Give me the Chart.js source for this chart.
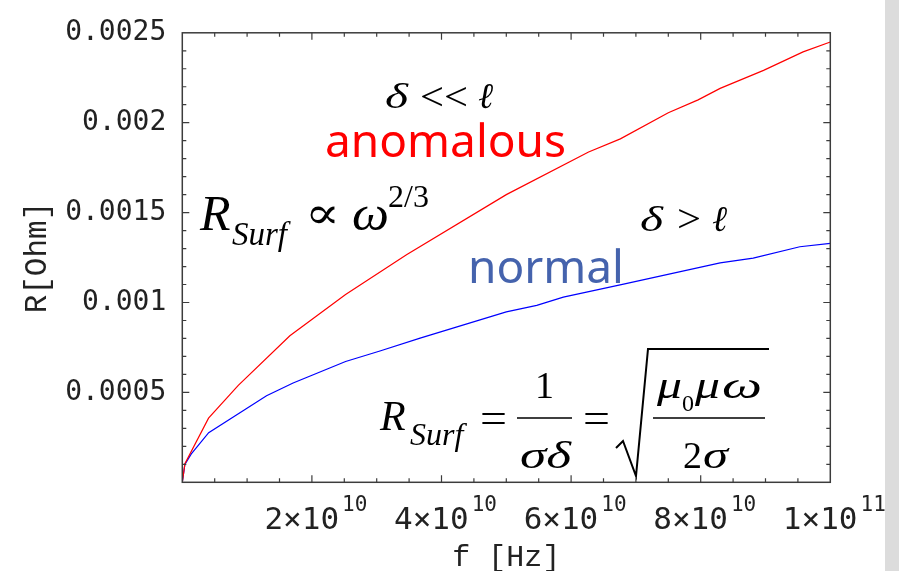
<!DOCTYPE html>
<html>
<head>
<meta charset="utf-8">
<script src="https://cdn.jsdelivr.net/npm/chart.js@4"></script>
<style>
  html, body { margin: 0; padding: 0; background: #fff; overflow: hidden; }
  #wrap { position: relative; width: 899px; height: 571px; }
</style>
</head>
<body>
<div id="wrap"><canvas id="surfChart" width="899" height="571"></canvas></div>
<script>
// ---- Data ----
const freqAnomalous = [0, 4e8, 4.05e9, 8.64e9, 1.66e10, 2.52e10, 3.46e10, 5.0e10, 6.27e10, 6.76e10, 7.5e10, 7.96e10, 8.3e10, 8.97e10, 9.58e10, 1.0e11];
const rAnomalous    = [0, 0.000103, 0.000357, 0.000539, 0.000815, 0.001044, 0.001265, 0.0016, 0.001837, 0.00191, 0.002055, 0.002127, 0.002191, 0.002291, 0.002394, 0.002449];

const freqNormal = [0, 4e8, 1.39e9, 4.07e9, 1.30e10, 1.71e10, 2.52e10, 3.05e10, 3.67e10, 5.0e10, 5.47e10, 5.88e10, 6.81e10, 8.3e10, 8.81e10, 9.53e10, 1.0e11];
const rNormal    = [0, 0.0001, 0.000158, 0.000276, 0.000481, 0.000552, 0.000672, 0.00073, 0.000802, 0.000948, 0.000984, 0.00103, 0.001102, 0.00122, 0.001247, 0.00131, 0.001329];

const yTickValues = [0.0005, 0.001, 0.0015, 0.002, 0.0025];
const yTickLabels = ['0.0005', '0.001', '0.0015', '0.002', '0.0025'];
const xTickValues = [2e10, 4e10, 6e10, 8e10, 1e11];
const xTickMant   = ['2', '4', '6', '8', '1'];
const xTickExp    = ['10', '10', '10', '10', '11'];

const xMinorStep = 5e9;
const yMinorStep = 0.0001;

const frameColor = '#3c3c3c';
const textColor  = '#222';
const serif = '"Liberation Serif", "DejaVu Serif", serif';

// ---- Frame, inward ticks and x tick labels ----
const framePlugin = {
  id: 'frame',
  afterDatasetsDraw(chart) {
    const { ctx, chartArea: a, scales: { x, y } } = chart;
    ctx.save();
    ctx.strokeStyle = frameColor;
    ctx.lineWidth = 1.5;
    ctx.strokeRect(a.left, a.top, a.right - a.left, a.bottom - a.top);
    ctx.lineWidth = 1.2;
    ctx.beginPath();
    for (let v = xMinorStep; v < x.max - 1; v += xMinorStep) {
      const px = x.getPixelForValue(v);
      const len = Math.abs(v / 2e10 - Math.round(v / 2e10)) < 1e-6 ? 7 : 4;
      ctx.moveTo(px, a.bottom); ctx.lineTo(px, a.bottom - len);
      ctx.moveTo(px, a.top);    ctx.lineTo(px, a.top + len);
    }
    for (let i = 1; i < 25; i++) {
      const py = y.getPixelForValue(i * yMinorStep);
      const len = i % 5 === 0 ? 7 : 4;
      ctx.moveTo(a.left, py);  ctx.lineTo(a.left + len, py);
      ctx.moveTo(a.right, py); ctx.lineTo(a.right - len, py);
    }
    ctx.stroke();

    // x tick labels with exponents
    ctx.fillStyle = textColor;
    ctx.textBaseline = 'alphabetic';
    ctx.textAlign = 'left';
    xTickValues.forEach((v, i) => {
      const base = xTickMant[i] + '\u00d710';
      ctx.font = '31px "DejaVu Sans Mono", monospace';
      const wb = ctx.measureText(base).width;
      ctx.font = '21px "DejaVu Sans Mono", monospace';
      const ws = ctx.measureText(xTickExp[i]).width;
      const start = x.getPixelForValue(v) - (wb + ws + 3) / 2 + 4;
      ctx.font = '31px "DejaVu Sans Mono", monospace';
      ctx.fillText(base, start, 529);
      ctx.font = '21px "DejaVu Sans Mono", monospace';
      ctx.fillText(xTickExp[i], start + wb + 3, 511);
    });
    ctx.restore();
  }
};

// ---- Formula and regime annotations ----
function txt(ctx, s, px, py, font, color) {
  ctx.font = font;
  ctx.fillStyle = color || '#000';
  ctx.fillText(s, px, py);
}
// same, but squeezed/stretched to end at x1
function fit(ctx, s, x0, x1, py, font) {
  ctx.font = font;
  const w = ctx.measureText(s).width;
  ctx.save();
  ctx.translate(x0, py);
  ctx.scale((x1 - x0) / w, 1);
  ctx.fillStyle = '#000';
  ctx.fillText(s, 0, 0);
  ctx.restore();
}

const notesPlugin = {
  id: 'notes',
  afterDraw(chart) {
    const ctx = chart.ctx;
    ctx.save();
    ctx.textBaseline = 'alphabetic';
    ctx.textAlign = 'left';

    // delta << l
    fit(ctx, '\u03b4', 385, 408, 108, 'italic 36px ' + serif);
    fit(ctx, '<<', 420, 468, 110, '40px ' + serif);
    txt(ctx, '\u2113', 478, 108, 'italic 36px ' + serif);
    // anomalous
    txt(ctx, 'anomalous', 325, 157, '46px "Noto Sans", sans-serif', '#ff0000');
    // R_Surf ∝ ω^(2/3)
    txt(ctx, 'R', 200, 230, 'italic 50px ' + serif);
    txt(ctx, 'Surf', 232, 245, 'italic 33px ' + serif);
    fit(ctx, '\u221d', 305, 340, 228, '44px ' + serif);
    fit(ctx, '\u03c9', 352, 389, 230, 'italic 48px ' + serif);
    txt(ctx, '2/3', 388, 207, '32px ' + serif);
    // delta > l
    fit(ctx, '\u03b4', 640, 663, 231, 'italic 36px ' + serif);
    fit(ctx, '>', 677, 701, 232, '40px ' + serif);
    txt(ctx, '\u2113', 712, 231, 'italic 36px ' + serif);
    // normal
    txt(ctx, 'normal', 468, 283, '46px "Noto Sans", sans-serif', '#4563ad');

    // R_Surf = 1/(σδ) = sqrt(μ0 μ ω / 2σ)
    txt(ctx, 'R', 380, 430, 'italic 42px ' + serif);
    txt(ctx, 'Surf', 410, 445, 'italic 32px ' + serif);
    fit(ctx, '=', 480, 507, 432, '42px ' + serif);
    txt(ctx, '1', 535, 398, '38px ' + serif);
    fit(ctx, '\u03c3\u03b4', 520, 571, 468, 'italic 38px ' + serif);
    fit(ctx, '=', 583, 610, 432, '42px ' + serif);
    fit(ctx, '\u03bc', 657, 682, 398, 'italic 38px ' + serif);
    txt(ctx, '0', 682, 411, '24px ' + serif);
    fit(ctx, '\u03bc', 695, 720, 398, 'italic 38px ' + serif);
    fit(ctx, '\u03c9', 722, 762, 398, 'italic 38px ' + serif);
    txt(ctx, '2', 683, 468, '38px ' + serif);
    fit(ctx, '\u03c3', 703, 728, 468, 'italic 38px ' + serif);
    ctx.strokeStyle = '#000';
    ctx.lineWidth = 1.6;
    ctx.beginPath();
    ctx.moveTo(517, 418); ctx.lineTo(572, 418);
    ctx.moveTo(653, 418); ctx.lineTo(765, 418);
    ctx.stroke();
    ctx.lineWidth = 2;
    ctx.beginPath();
    ctx.moveTo(616, 448); ctx.lineTo(623, 441);
    ctx.lineTo(636, 476); ctx.lineTo(648, 349); ctx.lineTo(769, 349);
    ctx.stroke();

    // grey strip on the right edge
    ctx.fillStyle = '#dcdcdc';
    ctx.fillRect(885, 0, 14, 571);
    ctx.restore();
  }
};

// ---- Chart ----
new Chart(document.getElementById('surfChart'), {
  type: 'line',
  data: {
    datasets: [
      {
        label: 'anomalous',
        data: freqAnomalous.map((f, i) => ({ x: f, y: rAnomalous[i] })),
        borderColor: '#ff0000', borderWidth: 1.2,
        pointRadius: 0, fill: false, tension: 0
      },
      {
        label: 'normal',
        data: freqNormal.map((f, i) => ({ x: f, y: rNormal[i] })),
        borderColor: '#0000ff', borderWidth: 1.2,
        pointRadius: 0, fill: false, tension: 0
      }
    ]
  },
  options: {
    responsive: false, animation: false,
    layout: { padding: { top: 22.7, right: 68.7, left: 0, bottom: 0 } },
    plugins: { legend: { display: false }, tooltip: { enabled: false } },
    scales: {
      x: {
        type: 'linear', min: 0, max: 1e11,
        grid: { display: false }, border: { display: false },
        ticks: { display: false },
        title: {
          display: true, text: 'f [Hz]', color: textColor,
          font: { family: '"Liberation Mono", monospace', size: 30, lineHeight: 1 },
          padding: { top: 0, bottom: -2 }
        },
        afterFit: s => { s.height = 88.7; }
      },
      y: {
        type: 'linear', min: 0, max: 0.0025,
        grid: { display: false, drawTicks: false }, border: { display: false },
        afterBuildTicks: s => { s.ticks = yTickValues.map(v => ({ value: v })); },
        ticks: {
          color: textColor, padding: 16,
          font: { family: '"DejaVu Sans Mono", monospace', size: 28 },
          callback: (v, i) => yTickLabels[i]
        },
        title: {
          display: true, text: 'R[Ohm]', color: textColor,
          font: { family: '"Liberation Mono", monospace', size: 31, lineHeight: 1.2 },
          padding: { top: 19, bottom: 0 }
        },
        afterFit: s => { s.width = 182.3; }
      }
    }
  },
  plugins: [framePlugin, notesPlugin]
});
</script>
</body>
</html>
